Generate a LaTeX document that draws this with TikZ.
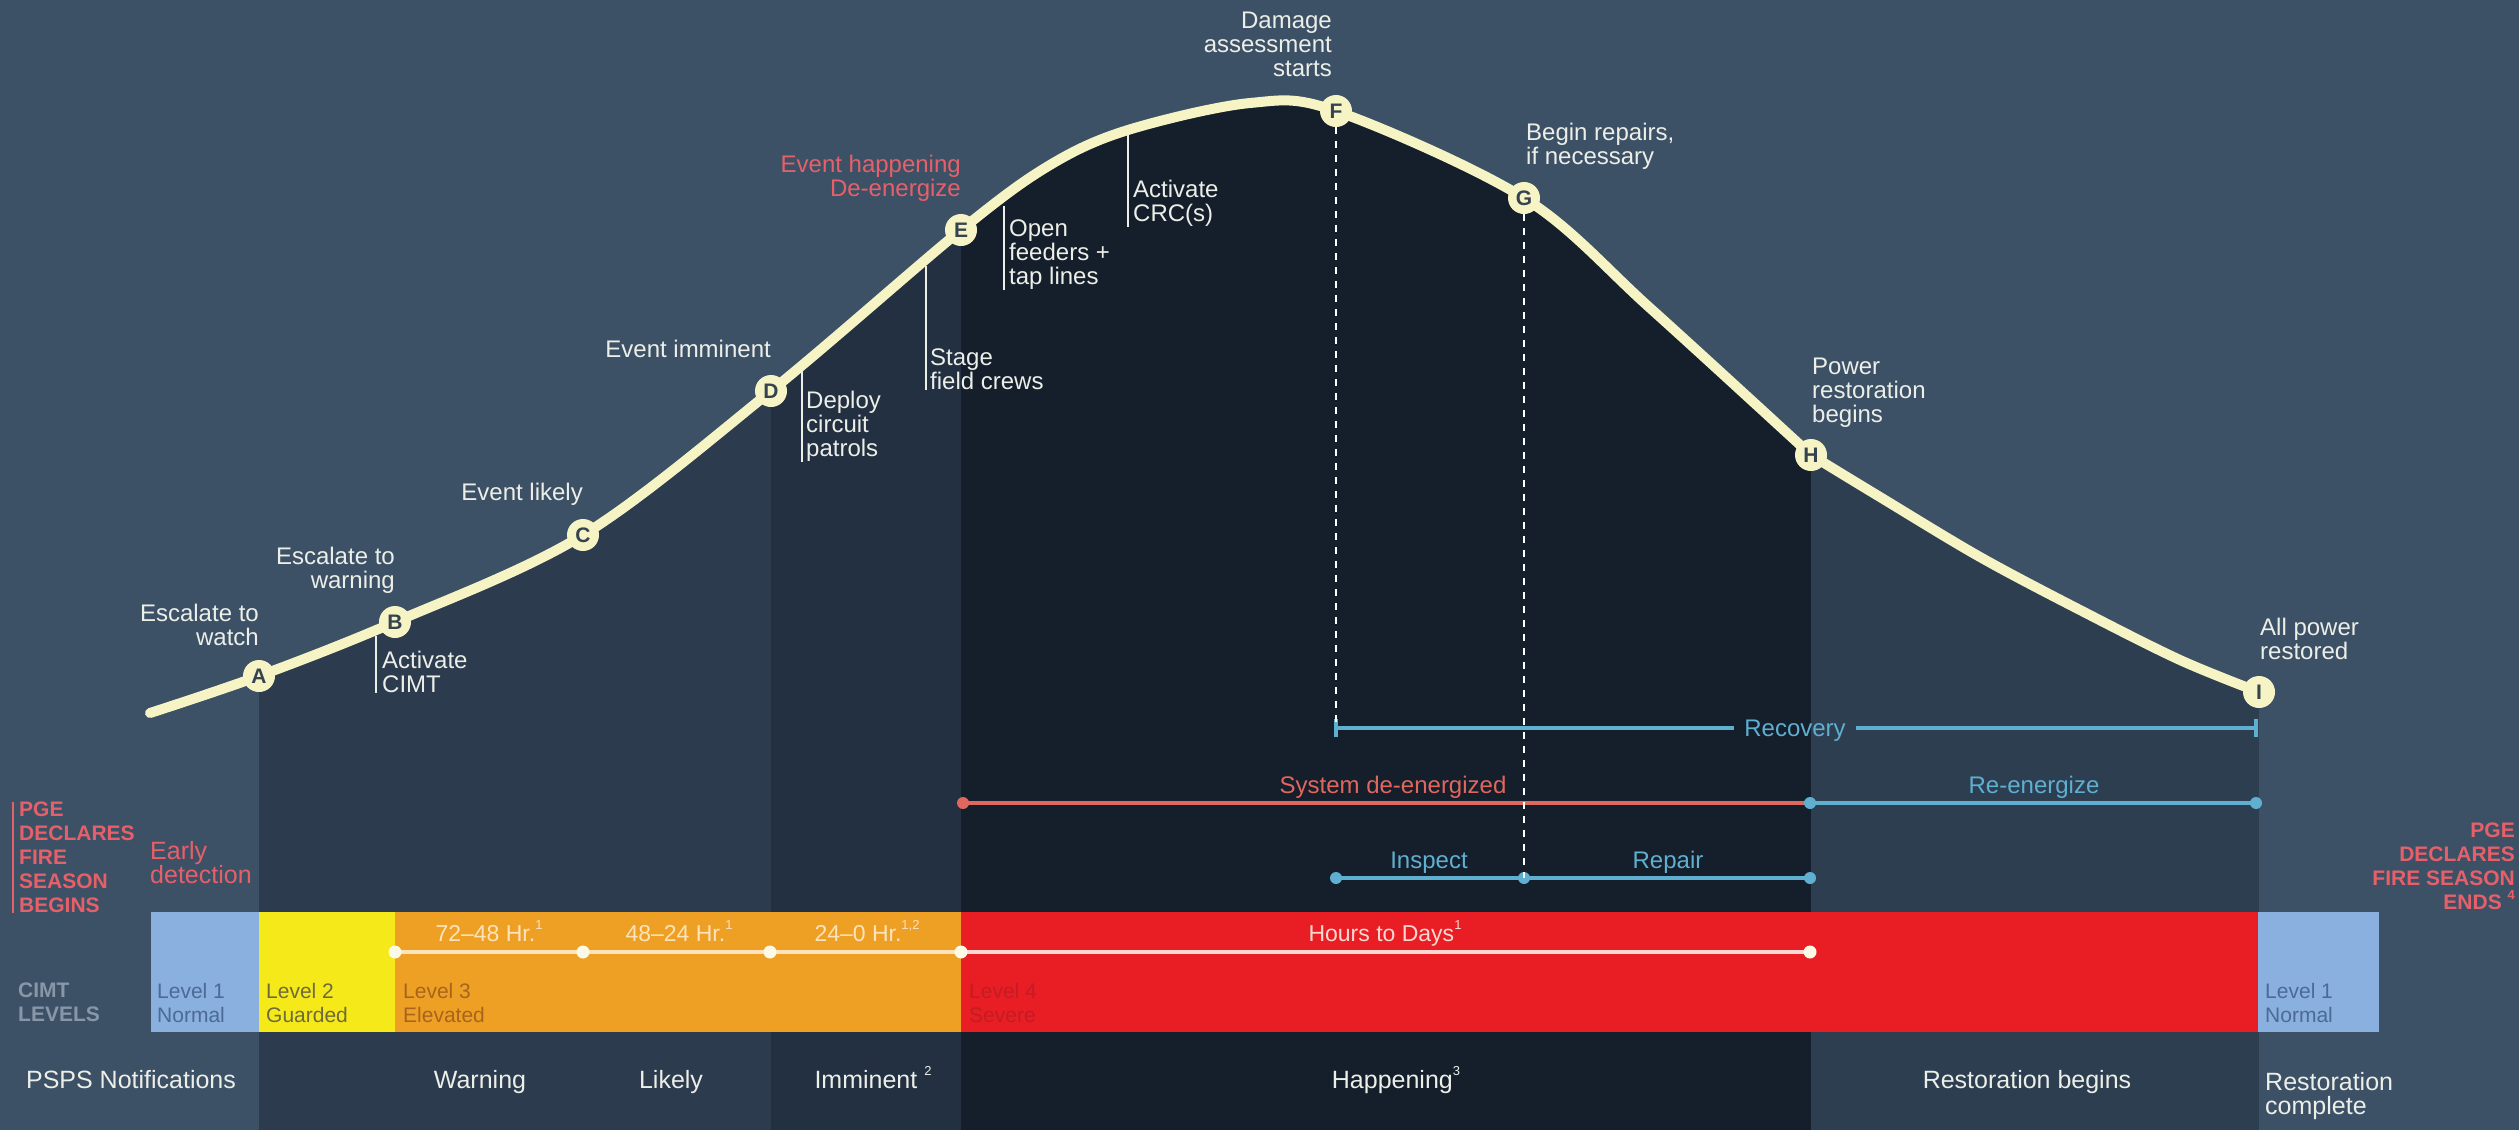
\documentclass[tikz,border=0pt]{standalone}
\usepackage{fontspec}
\setmainfont{Liberation Sans}
\usetikzlibrary{arrows.meta}
\definecolor{bgL}{HTML}{3D5166}
\definecolor{bandA}{HTML}{2C3B4D}
\definecolor{bandB}{HTML}{223041}
\definecolor{bandC}{HTML}{151E2B}
\definecolor{bandD}{HTML}{2D3E51}
\definecolor{cream}{HTML}{F6F3C4}
\definecolor{txt}{HTML}{ECEEE8}
\definecolor{pinkT}{HTML}{E6606A}
\definecolor{rline}{HTML}{E0675E}
\definecolor{bline}{HTML}{5FAFD0}
\definecolor{lvBlue}{HTML}{89B0DE}
\definecolor{lvYel}{HTML}{F5E91A}
\definecolor{lvOr}{HTML}{EEA024}
\definecolor{lvRed}{HTML}{E81E24}
\definecolor{tBlue}{HTML}{4B6A98}
\definecolor{tYel}{HTML}{6E6B3A}
\definecolor{tOr}{HTML}{A8641E}
\definecolor{tRed}{HTML}{C41C24}
\definecolor{hOr}{HTML}{FCE3BC}
\definecolor{hRed}{HTML}{FCD8D3}
\definecolor{grayT}{HTML}{8797A8}
\definecolor{dkLetter}{HTML}{34434F}
\newcommand\fsz[1]{\fontsize{#1}{24}\selectfont}
\newcommand\upnum[1]{\raisebox{0.5em}{\fontsize{13}{13}\selectfont #1}}
\tikzset{
  lbl/.style={inner sep=0pt, text=txt, font=\fsz{24}},
  ml/.style={lbl, align=left, anchor=north west},
  mr/.style={lbl, align=right, anchor=north east},
  letter/.style={circle, fill=cream, draw=cream, line width=2pt, minimum size=30pt,
    inner sep=0pt, text=dkLetter, font=\bfseries\fsz{21}},
  crv/.style={draw=cream, line width=10pt, line cap=round, line join=round},
  leader/.style={draw=txt, line width=1.8pt},
  dashln/.style={draw=white, line width=2pt, dash pattern=on 7pt off 7pt},
  bl/.style={draw=bline, line width=3.5pt},
  rl/.style={draw=rline, line width=3.5pt},
  tlo/.style={draw=hOr, line width=3.5pt},
  tlr/.style={draw=hRed, line width=3.5pt},
  lev/.style={inner sep=0pt, font=\fsz{21}, align=left, anchor=north west},
  warnT/.style={inner sep=0pt, text=pinkT, font=\bfseries\fsz{21}},
}
\begin{document}
\begin{tikzpicture}[x=1pt,y=-1pt]
\useasboundingbox (0,0) rectangle (2519,1130);
\fill[bgL] (0,0) rectangle (2519,1130);
% bands below the curve
\begin{scope}
\clip plot[smooth,tension=0.55] coordinates {(150,713) (259,676) (395,622) (583,535) (771,391) (961,230) (1050,165) (1128,130) (1250,103) (1336,111) (1524,198) (1650,308) (1811,455)}
  -- plot[smooth,tension=0.55] coordinates {(1811,455) (1880,497) (1980,557) (2080,610) (2180,660) (2259,692)}
  -- (2259,1130) -- (150,1130) -- cycle;
\fill[bandA] (259,0) rectangle (771,1130);
\fill[bandB] (771,0) rectangle (961,1130);
\fill[bandC] (961,0) rectangle (1811,1130);
\fill[bandD] (1811,0) rectangle (2259,1130);
\end{scope}

% CIMT bar
\fill[lvBlue] (151,912) rectangle (259,1032);
\fill[lvYel] (259,912) rectangle (395,1032);
\fill[lvOr] (395,912) rectangle (961,1032);
\fill[lvRed] (961,912) rectangle (2258,1032);
\fill[lvBlue] (2258,912) rectangle (2379,1032);

% curve and stage letters
\draw[crv] plot[smooth,tension=0.55] coordinates {(150,713) (259,676) (395,622) (583,535) (771,391) (961,230) (1050,165) (1128,130) (1250,103) (1336,111) (1524,198) (1650,308) (1811,455)}
  -- plot[smooth,tension=0.55] coordinates {(1811,455) (1880,497) (1980,557) (2080,610) (2180,660) (2259,692)};
\node[letter] (A) at (259,676) {A};
\node[letter] (B) at (395,622) {B};
\node[letter] (C) at (583,535) {C};
\node[letter] (D) at (771,391) {D};
\node[letter] (E) at (961,230) {E};
\node[letter] (F) at (1336,111) {F};
\node[letter] (G) at (1524,198) {G};
\node[letter] (H) at (1811,455) {H};
\node[letter] (I) at (2259,692) {I};

% recovery
\coordinate (recL) at (1336,728);
\coordinate (recR) at (2256,728);
\node[lbl, text=bline, inner xsep=10pt, anchor=base] (recT) at (1795,736) {Recovery};
\draw[bl] (recL) -- (recL -| recT.west);
\draw[bl] (recL -| recT.east) -- (recR);
\draw[bl] ([yshift=9pt]recL) -- ([yshift=-9pt]recL);
\draw[bl] ([yshift=9pt]recR) -- ([yshift=-9pt]recR);

% de-energized / re-energize
\coordinate (sdL) at (963,803);
\coordinate (sdR) at (1810,803);
\coordinate (reR) at (2256,803);
\draw[rl] (sdL) -- (sdR);
\draw[bl] (sdR) -- (reR);
\fill[rline] (sdL) circle[radius=6];
\fill[bline] (sdR) circle[radius=6];
\fill[bline] (reR) circle[radius=6];
\node[lbl, text=rline, anchor=base] (sdT) at (1393,793) {System de-energized};
\node[lbl, text=bline, anchor=base] (reT) at (2034,793) {Re-energize};

% inspect / repair
\coordinate (iL) at (1336,878);
\coordinate (iM) at (1524,878);
\coordinate (iR) at (1810,878);
\draw[bl] (iL) -- (iR);
\fill[bline] (iL) circle[radius=6];
\fill[bline] (iM) circle[radius=6];
\fill[bline] (iR) circle[radius=6];
\node[lbl, text=bline, anchor=base] (insT) at (1429,868) {Inspect};
\node[lbl, text=bline, anchor=base] (repT) at (1668,868) {Repair};

% dashed drops
\draw[dashln] (F.south) -- (recL);
\draw[dashln] (G.south) -- (iM);

% timeline in bar
\coordinate (t0) at (395,952);
\coordinate (t1) at (583,952);
\coordinate (t2) at (770,952);
\coordinate (t3) at (961,952);
\coordinate (t4) at (1810,952);
\draw[tlo] (t0) -- (t3);
\draw[tlr] (t3) -- (t4);
\foreach \p in {t0,t1,t2,t3,t4} \fill[white!60!cream] (\p) circle[radius=6.5];
\node[lbl, text=hOr, font=\fsz{23}, anchor=base] (h1) at (489,941) {72–48 Hr.\upnum{1}};
\node[lbl, text=hOr, font=\fsz{23}, anchor=base] (h2) at (679,941) {48–24 Hr.\upnum{1}};
\node[lbl, text=hOr, font=\fsz{23}, anchor=base] (h3) at (867,941) {24–0 Hr.\upnum{1,2}};
\node[lbl, text=hRed, font=\fsz{23}, anchor=base] (h4) at (1385,941) {Hours to Days\upnum{1}};

% level labels
\node[lev, text=tBlue] (l1) at (157,983) {Level 1\\Normal};
\node[lev, text=tYel] (l2) at (266,983) {Level 2\\Guarded};
\node[lev, text=tOr] (l3) at (403,983) {Level 3\\Elevated};
\node[lev, text=tRed] (l4) at (969,983) {Level 4\\Severe};
\node[lev, text=tBlue] (l5) at (2265,983) {Level 1\\Normal};
\node[warnT, text=grayT, align=left, anchor=north west] (cimtlv) at (18,983) {CIMT\\LEVELS};

% fire season labels
\node[warnT, align=left, anchor=north west] (pgeB) at (19,802) {PGE\\DECLARES\\FIRE\\SEASON\\BEGINS};
\draw[draw=pinkT, line width=1.5pt] ([xshift=-6pt]pgeB.north west) -- ([xshift=-6pt]pgeB.south west);
\node[lbl, text=pinkT, font=\fsz{25}, align=left, anchor=north west] (early) at (150,841) {Early\\detection};
\node[warnT, align=right, anchor=north east] (pgeE) at (2515,823) {PGE\\DECLARES\\FIRE SEASON\\ENDS \upnum{4}};

% bottom labels
\node[lbl, font=\fsz{25}, anchor=base] (b1) at (131,1088) {PSPS Notifications};
\node[lbl, font=\fsz{25}, anchor=base] (b2) at (480,1088) {Warning};
\node[lbl, font=\fsz{25}, anchor=base] (b3) at (671,1088) {Likely};
\node[lbl, font=\fsz{25}, anchor=base] (b4) at (873,1088) {Imminent \upnum{2}};
\node[lbl, font=\fsz{25}, anchor=base] (b5) at (1396,1088) {Happening\upnum{3}};
\node[lbl, font=\fsz{25}, anchor=base] (b6) at (2027,1088) {Restoration begins};
\node[lbl, font=\fsz{25}, align=left, anchor=north west] (b7) at (2265,1072) {Restoration\\complete};

% curve labels
\node[mr] (lA) at (259,604) {Escalate to\\watch};
\node[mr] (lB) at (395,547) {Escalate to\\warning};
\node[ml] (lB2) at (382,651) {Activate\\CIMT};
\node[lbl, anchor=base east] (lC) at (583,500) {Event likely};
\node[lbl, anchor=base east] (lD) at (771,357) {Event imminent};
\node[ml] (lD2) at (806,391) {Deploy\\circuit\\patrols};
\node[ml] (lSt) at (930,349) {Stage\\field crews};
\node[mr, text=pinkT] (lE) at (961,155) {Event happening\\De-energize};
\node[ml] (lE2) at (1009,220) {Open\\feeders +\\tap lines};
\node[ml] (lCRC) at (1133,180) {Activate\\CRC(s)};
\node[mr] (lF) at (1332,12) {Damage\\assessment\\starts};
\node[ml] (lG) at (1526,123) {Begin repairs,\\if necessary};
\node[ml] (lH) at (1812,358) {Power\\restoration\\begins};
\node[ml] (lI) at (2260,618) {All power\\restored};

% leader lines from curve to action labels
\coordinate (cB) at (376,636);
\coordinate (cD) at (802,370);
\coordinate (cS) at (926,266);
\coordinate (cE) at (1004,206);
\coordinate (cC) at (1128,135);
\draw[leader] (cB) -- (cB |- lB2.south);
\draw[leader] (cD) -- (cD |- lD2.south);
\draw[leader] (cS) -- (cS |- lSt.south);
\draw[leader] (cE) -- (cE |- lE2.south);
\draw[leader] (cC) -- (cC |- lCRC.south);
\end{tikzpicture}
\end{document}
